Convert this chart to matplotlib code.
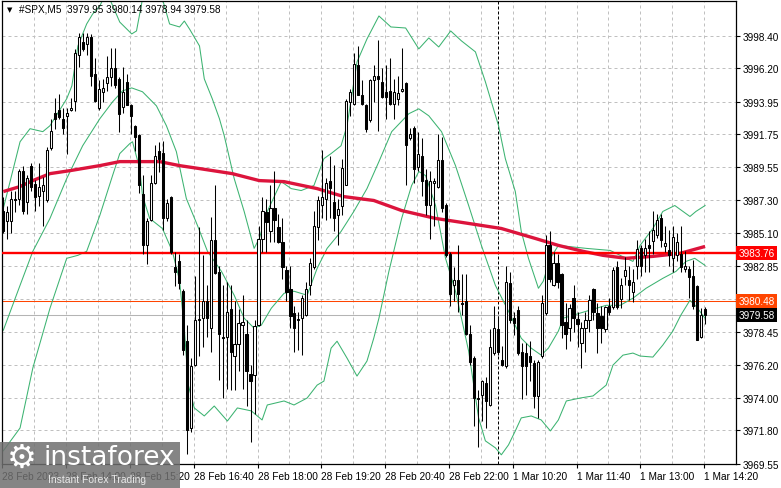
import matplotlib
matplotlib.use("Agg")
import matplotlib.pyplot as plt
import matplotlib.transforms as mtrans
from matplotlib.patches import Rectangle
import numpy as np

plt.rcParams['font.family'] = ['Liberation Sans', 'DejaVu Sans']

# --- M5 candles, #SPX ---
opens = [3986.6, 3985.9, 3985.9, 3987.4, 3987.4, 3989.3, 3987.2, 3989.6, 3988.4, 3987.6,
         3987.9, 3987.3, 3990.8, 3993.2, 3993.4, 3992.8, 3993.0, 3993.4, 3994.0, 3997.1,
         3998.0, 3997.85, 3998.3, 3995.8, 3993.5, 3994.6, 3995.2, 3995.6, 3996.2, 3995.5,
         3993.6, 3995.3, 3993.7, 3992.3, 3991.7, 3987.7, 3984.3, 3986.0, 3988.5, 3990.6,
         3990.5, 3986.1, 3987.5, 3982.8, 3983.2, 3981.2, 3977.8, 3971.95, 3976.2, 3979.2,
         3979.35, 3980.5, 3978.7, 3984.6, 3982.5, 3978.1, 3978.1, 3980.0, 3976.8, 3977.6,
         3978.9, 3978.3, 3975.6, 3975.5, 3978.9, 3984.7, 3986.5, 3985.2, 3986.75, 3985.5,
         3984.5, 3982.6, 3981.3, 3979.7, 3979.3, 3979.35, 3979.6, 3981.6, 3982.8, 3985.5,
         3987.0, 3987.4, 3988.6, 3987.2, 3986.3, 3986.9, 3988.3, 3993.9, 3993.8, 3996.4,
         3994.4, 3993.7, 3992.7, 3995.4, 3995.7, 3995.3, 3994.6, 3994.7, 3993.8, 3994.15,
         3994.7, 3995.2, 3991.5, 3992.2, 3989.55, 3990.3, 3988.7, 3987.0, 3988.5, 3988.2,
         3990.0, 3987.0, 3983.7, 3981.6, 3981.9, 3980.4, 3980.5, 3978.3, 3976.7, 3974.0,
         3974.2, 3975.0, 3973.5, 3977.0, 3978.6, 3976.5, 3976.1, 3981.7, 3979.35, 3979.9,
         3977.1, 3977.0, 3976.8, 3976.3, 3974.1, 3976.8, 3979.7, 3984.3, 3981.6, 3983.05,
         3982.3, 3979.1, 3978.7, 3980.7, 3979.3, 3977.7, 3978.7, 3979.2, 3981.3, 3979.7,
         3979.5, 3978.6, 3980.2, 3980.1, 3982.8, 3980.65, 3982.2, 3981.9, 3981.1, 3982.9,
         3984.1, 3983.6, 3984.3, 3984.55, 3984.95, 3986.1, 3984.24, 3983.95, 3983.4, 3983.6,
         3983.7, 3982.7, 3982.7, 3982.2, 3981.55, 3978.05, 3979.95]
highs = [3987.5, 3986.9, 3987.9, 3987.9, 3989.4, 3989.6, 3989.0, 3989.8, 3988.7, 3989.8,
         3988.9, 3990.9, 3992.8, 3994.2, 3994.5, 3993.5, 3993.5, 3994.2, 3997.5, 3998.6,
         3998.6, 3998.6, 3998.5, 3996.9, 3995.4, 3995.5, 3997.0, 3997.6, 3997.6, 3995.6,
         3996.3, 3995.8, 3993.8, 3992.4, 3991.8, 3989.0, 3986.1, 3989.0, 3991.0, 3991.2,
         3991.3, 3987.4, 3987.6, 3983.8, 3983.7, 3981.3, 3978.9, 3976.7, 3982.2, 3985.5,
         3983.6, 3981.6, 3986.2, 3988.3, 3982.9, 3981.6, 3981.8, 3981.6, 3980.5, 3980.0,
         3980.9, 3979.2, 3976.2, 3979.2, 3985.6, 3987.5, 3987.4, 3988.3, 3989.3, 3986.4,
         3986.1, 3982.9, 3982.9, 3980.2, 3979.8, 3980.9, 3981.8, 3983.4, 3986.6, 3987.6,
         3990.7, 3988.8, 3990.3, 3989.7, 3987.4, 3990.1, 3994.1, 3994.8, 3997.2, 3997.7,
         3995.4, 3993.8, 3995.5, 3996.4, 3998.1, 3996.2, 3996.4, 3996.9, 3995.5, 3995.7,
         3997.6, 3995.3, 3992.2, 3992.3, 3991.9, 3991.5, 3989.4, 3989.3, 3988.8, 3991.8,
         3991.6, 3987.1, 3983.8, 3982.8, 3984.3, 3982.3, 3982.3, 3978.9, 3976.8, 3974.5,
         3975.2, 3975.4, 3978.6, 3980.2, 3979.5, 3977.5, 3982.9, 3982.5, 3979.8, 3980.2,
         3977.7, 3977.7, 3977.8, 3976.5, 3976.5, 3980.9, 3984.96, 3985.2, 3983.8, 3983.7,
         3982.4, 3980.4, 3980.3, 3981.6, 3979.8, 3979.1, 3979.8, 3980.9, 3981.4, 3980.4,
         3980.2, 3980.2, 3980.7, 3982.8, 3983.2, 3982.04, 3983.5, 3982.9, 3982.7, 3984.6,
         3984.3, 3984.7, 3985.2, 3986.6, 3986.41, 3986.4, 3985.6, 3985.3, 3985.6, 3985.1,
         3985.6, 3983.9, 3982.9, 3983.3, 3981.6, 3980.07, 3980.14]
lows = [3985.1, 3984.7, 3985.1, 3986.5, 3987.0, 3986.4, 3986.4, 3987.9, 3986.6, 3986.9,
        3985.6, 3987.2, 3990.7, 3992.1, 3992.8, 3991.8, 3990.4, 3993.3, 3993.3, 3996.3,
        3997.4, 3997.1, 3995.0, 3993.9, 3993.4, 3993.9, 3994.7, 3995.0, 3994.9, 3991.9,
        3993.2, 3993.7, 3991.8, 3990.6, 3987.8, 3983.7, 3983.0, 3985.9, 3988.4, 3989.2,
        3985.3, 3985.9, 3983.7, 3981.5, 3981.3, 3976.9, 3970.2, 3971.7, 3976.1, 3976.8,
        3977.4, 3978.1, 3977.1, 3982.3, 3975.2, 3974.0, 3974.6, 3974.5, 3974.5, 3975.8,
        3974.6, 3973.4, 3971.0, 3972.9, 3978.8, 3983.8, 3983.8, 3984.5, 3984.5, 3984.4,
        3982.0, 3980.5, 3978.7, 3977.1, 3977.2, 3976.9, 3979.5, 3980.9, 3982.7, 3984.6,
        3986.1, 3986.0, 3986.1, 3985.2, 3984.3, 3986.3, 3988.3, 3993.0, 3993.7, 3994.4,
        3993.7, 3991.9, 3992.6, 3993.9, 3992.0, 3994.2, 3992.8, 3993.7, 3992.8, 3993.7,
        3994.6, 3988.3, 3991.35, 3988.5, 3989.3, 3987.6, 3986.3, 3984.7, 3985.6, 3988.1,
        3986.5, 3983.5, 3980.2, 3980.5, 3979.8, 3979.6, 3978.2, 3976.2, 3972.1, 3970.7,
        3972.4, 3971.95, 3973.4, 3976.9, 3976.9, 3976.1, 3976.0, 3979.0, 3978.2, 3976.9,
        3973.9, 3974.2, 3975.1, 3973.3, 3972.6, 3976.7, 3979.6, 3981.8, 3981.5, 3981.4,
        3978.0, 3977.3, 3977.8, 3978.45, 3977.4, 3976.0, 3977.1, 3978.45, 3979.2, 3977.0,
        3977.7, 3978.45, 3979.6, 3980.0, 3980.0, 3980.07, 3981.6, 3980.6, 3980.47, 3982.0,
        3982.2, 3982.5, 3982.5, 3983.7, 3984.73, 3984.17, 3983.8, 3982.9, 3982.5, 3983.2,
        3982.5, 3982.5, 3980.7, 3980.0, 3977.85, 3978.0, 3978.94]
closes = [3985.2, 3986.5, 3987.4, 3987.3, 3989.3, 3986.6, 3988.8, 3988.2, 3987.5, 3988.2,
          3988.3, 3990.7, 3992.0, 3992.8, 3992.9, 3992.2, 3993.2, 3993.5, 3997.2, 3998.3,
          3997.5, 3998.3, 3995.7, 3994.0, 3994.8, 3994.9, 3995.6, 3996.2, 3995.1, 3993.1,
          3994.6, 3993.7, 3993.0, 3991.6, 3988.3, 3984.3, 3985.9, 3988.5, 3990.3, 3990.1,
          3986.1, 3987.1, 3983.8, 3982.5, 3981.7, 3977.2, 3971.8, 3976.1, 3979.2, 3979.3,
          3980.5, 3979.35, 3984.6, 3982.4, 3978.3, 3978.0, 3979.8, 3977.1, 3977.6, 3979.0,
          3979.1, 3975.8, 3975.1, 3978.8, 3984.7, 3986.6, 3985.85, 3986.8, 3986.0, 3984.5,
          3982.8, 3981.1, 3979.5, 3978.7, 3979.2, 3980.7, 3981.3, 3983.1, 3985.6, 3987.3,
          3987.5, 3988.5, 3988.1, 3986.1, 3986.7, 3989.5, 3994.0, 3994.6, 3996.5, 3994.4,
          3993.8, 3992.1, 3995.4, 3995.7, 3995.5, 3994.3, 3994.3, 3993.8, 3994.6, 3994.55,
          3994.8, 3991.0, 3991.8, 3989.4, 3990.4, 3988.6, 3987.0, 3988.6, 3988.6, 3990.0,
          3986.75, 3983.6, 3981.0, 3981.9, 3981.0, 3980.3, 3978.3, 3976.4, 3974.0, 3973.9,
          3975.1, 3973.75, 3977.4, 3978.7, 3977.1, 3976.2, 3981.8, 3979.2, 3979.0, 3977.0,
          3976.1, 3976.1, 3976.4, 3974.1, 3976.4, 3980.4, 3984.3, 3982.0, 3983.1, 3981.8,
          3978.9, 3978.3, 3980.07, 3979.35, 3978.95, 3978.7, 3979.2, 3980.6, 3979.8, 3978.7,
          3978.7, 3980.1, 3979.8, 3982.6, 3980.1, 3981.6, 3982.6, 3981.6, 3981.8, 3984.0,
          3982.9, 3984.06, 3984.06, 3985.3, 3985.96, 3984.6, 3984.4, 3983.6, 3984.8, 3984.5,
          3982.8, 3982.9, 3982.15, 3980.2, 3977.85, 3979.6, 3979.58]

# --- Bollinger Bands (upper / middle / lower), traced: bar index, price ---
bb_up_x = [0, 4.2, 6.7, 9.9, 11.7, 15.9, 17.2, 18.7, 20.9, 22.4, 24.2, 25.4, 26.7, 29.2,
           32.2, 33.4, 34.9, 37.4, 39.9, 41.7, 44.2, 45.4, 46.7, 49.2, 50.4, 52.4, 54.2,
           55.4, 57.9, 60.4, 62.9, 64.2, 66.2, 69.7, 72.2, 74.7, 77.9, 80.4, 82.2, 84.7,
           86.2, 88.7, 91.2, 94.2, 97.2, 100.9, 104.2, 106.7, 109.2, 112.2, 114.9, 118.4,
           120.9, 124.2, 125.9, 128.4, 129.9, 131.7, 134.2, 135.4, 137.2, 139.2, 146.2,
           152.2, 154.7, 157.9, 159.7, 162.9, 165.4, 168.4, 172.2, 173.7, 176]
bb_up = [3986.75, 3991.25, 3992.13, 3991.93, 3992.33, 3994.15, 3995.02, 3997.71, 3999.19,
         3999.86, 4000.40, 4001.10, 4000.87, 3999.32, 3998.52, 3998.72, 4000.87, 4001.70,
         4000.87, 3999.19, 3998.99, 3999.39, 3998.85, 3997.71, 3995.49, 3994.15, 3992.80,
         3991.66, 3988.77, 3986.55, 3984.06, 3984.73, 3986.55, 3988.56, 3988.09, 3987.96,
         3988.30, 3990.11, 3990.45, 3990.98, 3992.33, 3996.63, 3998.18, 3999.73, 3998.99,
         3998.92, 3997.51, 3998.25, 3997.64, 3998.72, 3998.05, 3997.31, 3995.29, 3992.33,
         3990.11, 3987.89, 3985.20, 3983.39, 3981.37, 3981.84, 3983.39, 3984.26, 3984.06,
         3983.92, 3983.59, 3983.18, 3984.26, 3985.40, 3986.55, 3986.95, 3986.21, 3986.55,
         3986.95]
bb_mid_x = [0, 4.2, 7.4, 11.7, 15.9, 19.9, 24.2, 27.4, 29.9, 32.2, 34.9, 38.4, 40.9, 43.4,
            45.9, 48.7, 51.2, 54.7, 57.9, 60.4, 62.9, 64.7, 67.2, 70.4, 72.9, 76.2, 78.7,
            81.2, 84.7, 87.9, 91.2, 94.2, 97.4, 101.7, 104.2, 106.7, 109.9, 113.4, 116.7,
            119.9, 123.4, 126.7, 129.9, 132.4, 134.9, 136.7, 139.2, 140.4, 146.2, 151.2,
            154.7, 157.9, 161.2, 165.4, 168.7, 171.2, 173.4, 176]
bb_mid = [3978.54, 3981.57, 3983.86, 3986.08, 3988.77, 3990.98, 3992.80, 3993.94, 3994.68,
          3994.88, 3994.62, 3993.67, 3992.33, 3990.58, 3987.42, 3985.60, 3983.86, 3982.51,
          3980.90, 3979.35, 3978.68, 3978.88, 3980.02, 3981.03, 3981.17, 3980.90, 3982.71,
          3984.06, 3985.20, 3986.55, 3988.09, 3989.91, 3991.93, 3993.14, 3993.47, 3993.00,
          3991.93, 3989.64, 3986.95, 3984.26, 3981.57, 3979.82, 3978.00, 3977.33, 3976.86,
          3977.33, 3978.48, 3979.35, 3979.82, 3980.22, 3980.22, 3980.70, 3981.37, 3982.04,
          3982.51, 3983.18, 3983.39, 3982.91]
bb_low_x = [0, 4.2, 7.4, 11.7, 15.9, 18.7, 20.9, 24.2, 27.4, 29.2, 31.7, 32.4, 34.2, 34.9,
            36.7, 39.9, 42.4, 44.2, 45.4, 46.4, 47.9, 50.4, 52.9, 56.2, 58.7, 62.2, 64.9,
            66.2, 70.4, 72.9, 76.2, 78.7, 80.4, 82.2, 83.7, 86.2, 88.7, 91.2, 92.9, 94.2,
            96.7, 99.9, 102.4, 104.2, 105.9, 108.4, 110.9, 113.4, 114.9, 116.7, 119.2,
            120.9, 123.4, 124.9, 126.7, 128.4, 129.9, 132.4, 134.9, 137.2, 139.2, 141.2,
            144.7, 147.9, 151.2, 152.9, 155.4, 157.9, 159.7, 162.9, 165.4, 167.9, 169.9,
            172.2, 173.7, 176]
bb_low = [3970.41, 3971.95, 3975.99, 3980.02, 3983.39, 3983.59, 3983.86, 3986.28, 3988.97,
          3990.45, 3991.12, 3991.25, 3989.44, 3987.62, 3986.08, 3985.40, 3983.86, 3981.90,
          3978.60, 3974.84, 3973.30, 3972.76, 3973.43, 3972.42, 3973.30, 3973.10, 3972.49,
          3973.50, 3973.77, 3973.50, 3973.97, 3974.84, 3975.11, 3977.33, 3977.80, 3976.66,
          3975.45, 3976.46, 3978.00, 3979.35, 3982.51, 3986.08, 3988.30, 3989.24, 3988.97,
          3986.95, 3983.39, 3981.17, 3979.35, 3977.13, 3972.63, 3971.08, 3970.61, 3970.14,
          3970.81, 3971.75, 3972.63, 3972.76, 3972.49, 3971.75, 3972.49, 3973.77, 3973.97,
          3974.11, 3974.84, 3976.19, 3976.86, 3977.00, 3976.80, 3976.73, 3977.54, 3978.48,
          3979.55, 3980.56, 3980.16, 3979.35]

# --- slow moving average (thick crimson), traced ---
ma_x = [0, 4.2, 7.4, 11.7, 16.7, 24.2, 29.2, 39.2, 44.2, 49.2, 57.4, 64.2, 70.4, 78.7,
        85.4, 92.9, 99.9, 108.4, 116.7, 124.9, 133.4, 139.2, 145.4, 150.4, 156.2, 162.9,
        169.7, 176]
ma = [3987.89, 3988.23, 3988.63, 3989.10, 3989.30, 3989.64, 3989.91, 3989.91, 3989.64,
      3989.44, 3989.10, 3988.63, 3988.56, 3988.09, 3987.55, 3987.29, 3986.61, 3986.08,
      3985.74, 3985.40, 3984.73, 3984.26, 3983.86, 3983.59, 3983.39, 3983.52, 3983.72,
      3984.19]

level = 3983.76
ask = 3980.48
bid = 3979.58
day_sep = 124

price_ticks = [3998.40, 3996.20, 3993.95, 3991.75, 3989.55, 3987.30, 3985.10, 3982.85,
               3980.65, 3978.45, 3976.20, 3974.00, 3971.80, 3969.55]
time_labels = ["28 Feb 2023", "28 Feb 14:00", "28 Feb 15:20", "28 Feb 16:40",
               "28 Feb 18:00", "28 Feb 19:20", "28 Feb 20:40", "28 Feb 22:00",
               "1 Mar 10:20", "1 Mar 11:40", "1 Mar 13:00", "1 Mar 14:20"]

W, H = 781, 489
fig = plt.figure(figsize=(W / 100, H / 100), dpi=100)
ax = fig.add_axes([2 / W, 24 / H, 734 / W, 463 / H])

grid_col = '#c0c0c0'
dash = (0, (3, 3))
n = len(closes)
x = np.arange(n)
o = np.array(opens); c = np.array(closes)
hi = np.array(highs); lo = np.array(lows)

ax.set_xlim(-0.33, 183.2)
ax.set_ylim(3969.52, 4000.74)

# grid
ax.set_xticks([16 * k - 0.25 for k in range(len(time_labels))])
ax.set_xticks([8 * k - 0.25 for k in range(24)], minor=True)
ax.set_xticklabels(time_labels, fontsize=7.3)
for t in ax.get_xticklabels():
    t.set_ha('left')
ax.set_yticks(price_ticks)
# 3980.65 sits under the ask label box, as on the terminal
ax.set_yticklabels(['' if v == 3980.65 else '%.2f' % v for v in price_ticks], fontsize=7.2)
ax.yaxis.tick_right()
ax.tick_params(axis='y', length=3, pad=2, width=0.8)
ax.tick_params(axis='x', which='major', length=3, pad=2, width=0.8)
ax.tick_params(axis='x', which='minor', length=0)
ax.grid(True, which='both', axis='x', color=grid_col, lw=0.72, ls=dash)
ax.grid(True, which='major', axis='y', color=grid_col, lw=0.72, ls=dash)
ax.set_axisbelow(True)
for s in ax.spines.values():
    s.set_linewidth(0.9)
    s.set_color('black')

# day separator
ax.axvline(day_sep, color='black', lw=0.72, ls=(0, (3, 2)), zorder=1)

# bid / ask and horizontal level
ax.axhline(bid, color='#b4b4b4', lw=0.75, zorder=1)
ax.axhline(ask, color='#ff4500', lw=0.75, zorder=1)
ax.axhline(level, color='#ff0000', lw=1.7, zorder=4)

# indicators
green = '#3cb371'
ax.plot(bb_up_x, bb_up, color=green, lw=0.75, zorder=2)
ax.plot(bb_mid_x, bb_mid, color=green, lw=0.75, zorder=2)
ax.plot(bb_low_x, bb_low, color=green, lw=0.75, zorder=2)
ax.plot(ma_x, ma, color='#dc143c', lw=2.4, zorder=3, solid_capstyle='butt')

# candles
ax.vlines(x, lo, hi, color='black', lw=0.75, zorder=5)
bull = c >= o
body_lo = np.minimum(o, c)
body_h = np.maximum(np.abs(c - o), 0.04)
ax.bar(x[bull], body_h[bull], bottom=body_lo[bull], width=0.55,
       facecolor='white', edgecolor='black', lw=0.75, zorder=6)
ax.bar(x[~bull], body_h[~bull], bottom=body_lo[~bull], width=0.55,
       facecolor='black', edgecolor='black', lw=0.75, zorder=6)

# price labels at the right
bt = mtrans.blended_transform_factory(ax.transAxes, ax.transData)
for val, col in [(level, '#ff0000'), (ask, '#ff4500'), (bid, 'black')]:
    ax.text(1.0035, val, '%.2f' % val, transform=bt, ha='left', va='center',
            fontsize=7.2, color='white', clip_on=False, zorder=10,
            bbox=dict(boxstyle='square,pad=0.22', fc=col, ec='none'))

# header
fig.text(10 / W, 1 - 10 / H, '\u25bc', fontsize=5, family='DejaVu Sans',
         ha='center', va='center', color='black')
fig.text(19 / W, 1 - 10 / H, '#SPX,M5  3979.95 3980.14 3978.94 3979.58',
         fontsize=7.2, ha='left', va='center', color='black')

# watermark
fig.patches.append(Rectangle((0, 0), 180 / W, 46 / H, transform=fig.transFigure,
                             facecolor='#707070', edgecolor='none', alpha=0.85, zorder=20))
fig.text(22 / W, 1 - 458 / H, '\u2699', fontsize=24, family='DejaVu Sans',
         color='white', ha='center', va='center', zorder=21)
fig.text(44 / W, 1 - 458 / H, 'instaforex', fontsize=19, family='DejaVu Sans',
         color='white', ha='left', va='center', zorder=21)
fig.text(48 / W, 1 - 480 / H, 'Instant Forex Trading', fontsize=7.5,
         color='#e8e8e8', ha='left', va='center', zorder=21)

fig.savefig('out.png', dpi=100)
